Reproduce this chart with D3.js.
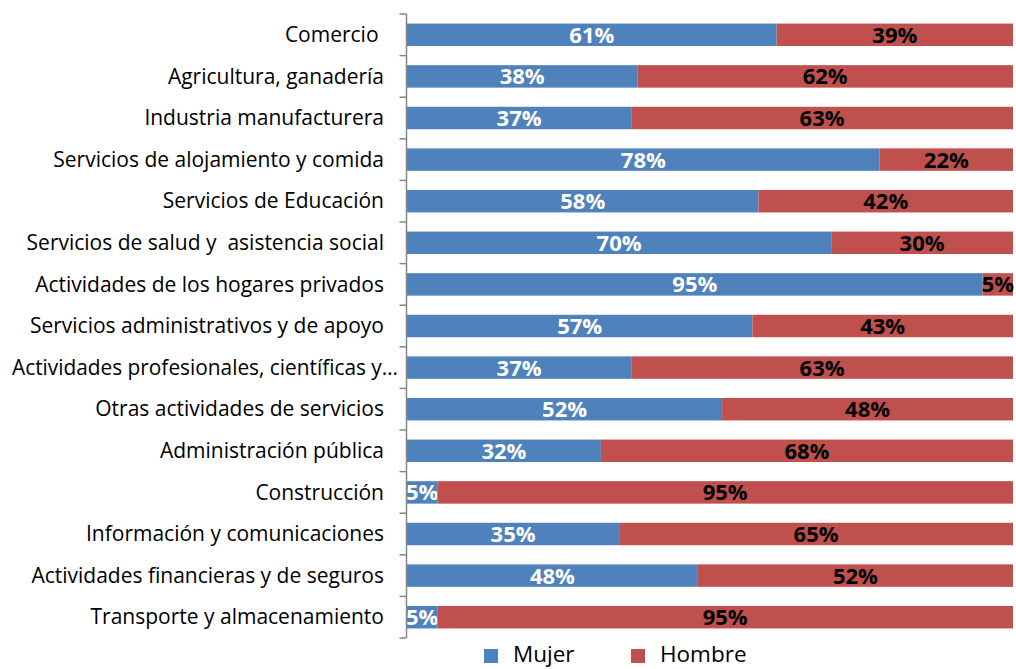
<!DOCTYPE html>
<html><head><meta charset="utf-8">
<script src="https://cdn.jsdelivr.net/npm/d3@7"></script>
<style>body{margin:0;background:#fff;} svg{display:block;}</style>
</head><body>
<svg id="chart" width="1016" height="669"></svg>
<script>
const categories = ["Comercio ","Agricultura, ganadería","Industria manufacturera","Servicios de alojamiento y comida","Servicios de Educación","Servicios de salud y  asistencia social","Actividades de los hogares privados","Servicios administrativos y de apoyo","Actividades profesionales, científicas y…","Otras actividades de servicios","Administración pública","Construcción","Información y comunicaciones","Actividades financieras y de seguros","Transporte y almacenamiento"];
const mujer = [61,38,37,78,58,70,95,57,37,52,32,5,35,48,5];
const hombre = [39,62,63,22,42,30,5,43,63,48,68,95,65,52,95];
const seriesNames = ["Mujer","Hombre"];
const colors = ["#4F81BD","#C0504D"];
const labelColors = ["#ffffff","#000000"];

const svg = d3.select("#chart");
const font = "'Open Sans', sans-serif";
const x = d3.scaleLinear().domain([0,100]).range([407,1013]);
const y = d3.scaleBand().domain(categories).range([14,638]).paddingInner(0.46).paddingOuter(0.23);

const rows = categories.map((c,i)=>({c, v:[mujer[i],hombre[i]]}));
const stack = d3.stack().keys([0,1]).value((d,k)=>d.v[k]);
const stacked = stack(rows);

stacked.forEach((layer,k)=>{
  const g = svg.append("g");
  g.selectAll("rect").data(layer).enter().append("rect")
    .attr("x", d=>x(d[0])).attr("y", d=>y(d.data.c))
    .attr("width", d=>x(d[1])-x(d[0])).attr("height", y.bandwidth())
    .attr("fill", colors[k]);
  g.selectAll("text").data(layer).enter().append("text")
    .attr("x", d=>(x(d[0])+x(d[1]))/2).attr("y", d=>y(d.data.c)+y.bandwidth()/2)
    .attr("dy","0.36em").attr("text-anchor","middle")
    .attr("font-family",font).attr("font-weight","bold").attr("font-size",22)
    .attr("fill", labelColors[k]).text(d=>d.data.v[k]+"%");
});

// axis
const axisG = svg.append("g").attr("transform","translate(406.5,0)");
const step = (638-14)/categories.length;
axisG.append("line").attr("y1",14).attr("y2",638).attr("stroke","#868686").attr("stroke-width",1.5);
const tickYs = d3.range(categories.length+1).map(i=>14+i*step);
axisG.selectAll("line.t").data(tickYs).enter().append("line").attr("class","t")
  .attr("x1",-7).attr("x2",0).attr("y1",d=>d).attr("y2",d=>d).attr("stroke","#868686").attr("stroke-width",1.5);
svg.append("g").selectAll("text").data(categories).enter().append("text")
  .attr("x",d=>d.endsWith("…") ? 398 : 384).attr("y",d=>y(d)+y.bandwidth()/2).attr("dy","0.34em")
  .attr("text-anchor","end").attr("font-family",font).attr("font-size",21).attr("fill","#000")
  .attr("xml:space","preserve").style("white-space","pre").text(d=>d)
  .each(function(d){ if(d.endsWith("…")) d3.select(this).attr("textLength",386).attr("lengthAdjust","spacingAndGlyphs"); });

// legend
const leg = svg.append("g");
const legItems = [{n:seriesNames[0],c:colors[0],x:484},{n:seriesNames[1],c:colors[1],x:631}];
legItems.forEach(it=>{
  leg.append("rect").attr("x",it.x).attr("y",649).attr("width",14).attr("height",14).attr("fill",it.c);
  leg.append("text").attr("x",it.x+29).attr("y",662).attr("font-family",font)
    .attr("font-size",22.5).attr("fill","#000").text(it.n);
});
</script>
</body></html>
